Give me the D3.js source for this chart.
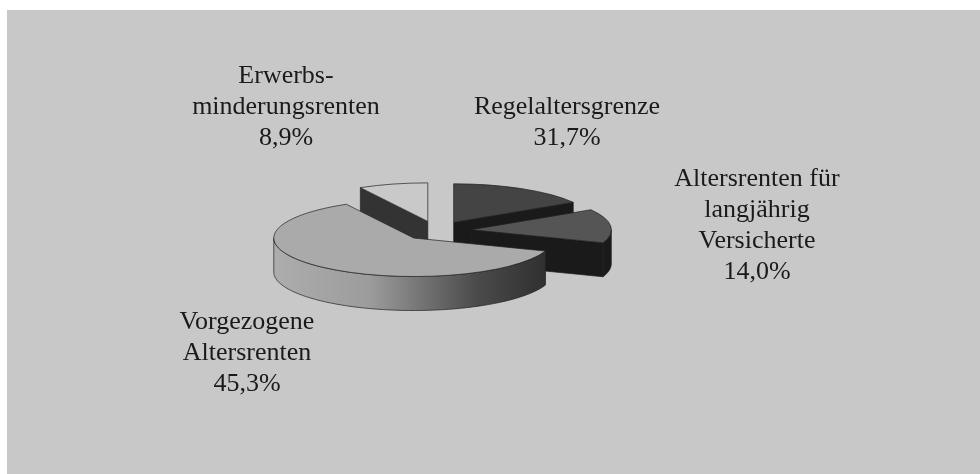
<!DOCTYPE html>
<meta charset="utf-8">
<style>
body { margin: 0; background: #fff; }
svg { display: block; filter: blur(0.45px); }
.label { font-family: "Liberation Serif", serif; font-size: 26px; fill: #1a1a1a; text-anchor: middle; }
</style>
<body>
<script src="https://d3js.org/d3.v7.min.js"></script>
<script>
var categories = ["Regelaltersgrenze", "Altersrenten für langjährig Versicherte", "Vorgezogene Altersrenten", "Erwerbsminderungsrenten"];
// printed percentages
var printedLabels = ["31,7%", "14,0%", "45,3%", "8,9%"];
// share of the circle as actually drawn (differs from the printed numbers)
var drawnShares = [16.3, 14.2, 61.5, 8.0];
var labelLines = [
    ["Regelaltersgrenze"],
    ["Altersrenten für", "langjährig", "Versicherte"],
    ["Vorgezogene", "Altersrenten"],
    ["Erwerbs-", "minderungsrenten"]
];

var width = 980, height = 474;
var cx = 436.5, cy = 230.7,
    rx = 140, ry = 38.5,
    depth = 34,
    explode = 35;
var yScale = ry / rx;

var topColors = ["#444", "#555", "#aaa", "#c9c9c9"];
var sideColors = ["#1a1a1a", "#1a1a1a", "url(#bigSide)", "#333"];
var cutColors = ["#1a1a1a", "#1a1a1a", "#333", "#333"];
// where each label block sits: centre x, first baseline
var labelPos = [[567, 114], [757, 186], [247, 329], [286, 83]];
var lineGap = 31;

var svg = d3.select("body").append("svg")
    .attr("width", width)
    .attr("height", height);

var defs = svg.append("defs");
var grad = defs.append("linearGradient").attr("id", "bigSide");
grad.append("stop").attr("offset", "0%").attr("stop-color", "#adadad");
grad.append("stop").attr("offset", "35%").attr("stop-color", "#9c9c9c");
grad.append("stop").attr("offset", "75%").attr("stop-color", "#4a4a4a");
grad.append("stop").attr("offset", "100%").attr("stop-color", "#303030");

svg.append("rect")
    .attr("x", 7).attr("y", 10)
    .attr("width", width - 7).attr("height", height - 10)
    .attr("fill", "#c8c8c8");

var pie = d3.pie().sort(null).value(function(d) { return d; });
var arcs = pie(drawnShares);
var arc = d3.arc().innerRadius(0).outerRadius(rx);

function offset(a) {
    var mid = (a.startAngle + a.endAngle) / 2;
    return [cx + explode * Math.sin(mid), cy - explode * Math.cos(mid) * yScale];
}
function rim(o, angle) {
    return [o[0] + rx * Math.sin(angle), o[1] - ry * Math.cos(angle)];
}

// part of the rim that faces the viewer (90deg to 270deg)
function frontRim(a, o) {
    var from = Math.max(a.startAngle, Math.PI / 2),
        to = Math.min(a.endAngle, 3 * Math.PI / 2);
    if (to <= from) return null;
    var upper = d3.range(0, 61).map(function(i) { return rim(o, from + (to - from) * i / 60); });
    var lower = upper.slice().reverse().map(function(p) { return [p[0], p[1] + depth]; });
    return upper.concat(lower);
}

function cutFace(o, angle) {
    var p = rim(o, angle);
    return [o, p, [p[0], p[1] + depth], [o[0], o[1] + depth]];
}

var line = d3.line().curve(d3.curveLinearClosed);
var pieGroup = svg.append("g")
    .attr("stroke", "#222")
    .attr("stroke-width", 0.7)
    .attr("stroke-linejoin", "round");

// back to front
[3, 0, 1, 2].forEach(function(i) {
    var a = arcs[i], o = offset(a);
    var g = pieGroup.append("g");

    // the cut that faces the viewer: slice end on the right half, slice start on the left half
    var cutAngle = a.endAngle < Math.PI ? a.endAngle : (a.startAngle > Math.PI ? a.startAngle : null);
    if (cutAngle !== null) {
        g.append("path").attr("d", line(cutFace(o, cutAngle))).attr("fill", cutColors[i]);
    }
    var front = frontRim(a, o);
    if (front) {
        g.append("path").attr("d", line(front)).attr("fill", sideColors[i]);
    }
    g.append("path")
        .attr("d", arc(a))
        .attr("transform", "translate(" + o[0] + "," + o[1] + ") scale(1," + yScale + ")")
        .attr("vector-effect", "non-scaling-stroke")
        .attr("fill", topColors[i]);
});

categories.forEach(function(c, i) {
    var lines = labelLines[i].concat(printedLabels[i]);
    svg.append("text")
        .attr("class", "label")
        .selectAll("tspan")
        .data(lines)
        .join("tspan")
        .attr("x", labelPos[i][0])
        .attr("y", function(d, j) { return labelPos[i][1] + j * lineGap; })
        .text(function(d) { return d; });
});
</script>
</body>
</html>
